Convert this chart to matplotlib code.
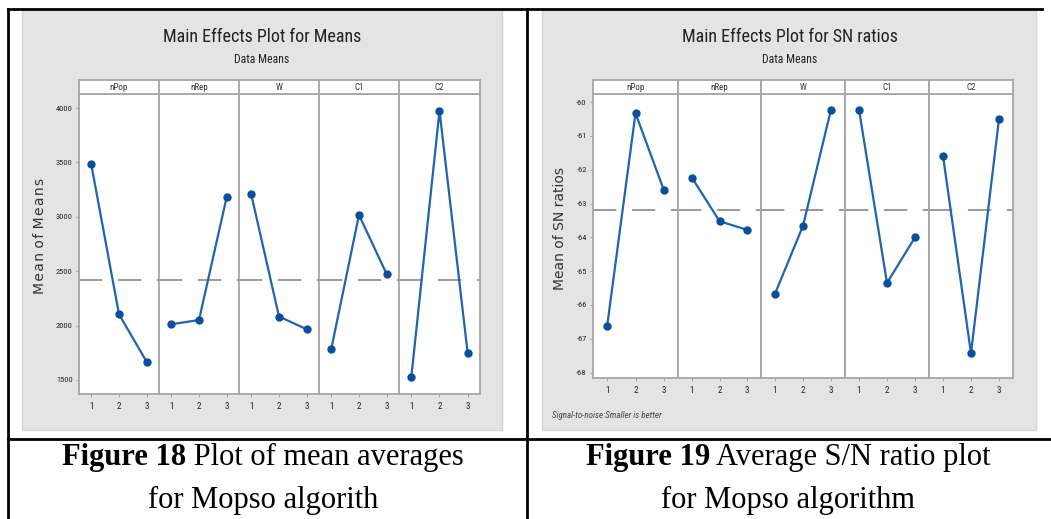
import matplotlib
matplotlib.use("Agg")
import matplotlib.pyplot as plt
from matplotlib import font_manager
from matplotlib.lines import Line2D
from matplotlib.patches import Rectangle

# factor levels and main-effect values
factors = ["nPop", "nRep", "W", "C1", "C2"]
levels = [1, 2, 3]

mean_npop = [3485, 2104, 1665]
mean_nrep = [2012, 2051, 3185]
mean_w = [3207, 2083, 1966]
mean_c1 = [1782, 3017, 2471]
mean_c2 = [1531, 3975, 1751]
mean_ticks = [1500, 2000, 2500, 3000, 3500, 4000]

sn_npop = [-66.62, -60.33, -62.60]
sn_nrep = [-62.23, -63.52, -63.78]
sn_w = [-65.67, -63.66, -60.22]
sn_c1 = [-60.22, -65.35, -64.00]
sn_c2 = [-61.59, -67.43, -60.50]
sn_ticks = [-68, -67, -66, -65, -64, -63, -62, -61, -60]

W, H = 1051, 519

installed = {f.name for f in font_manager.fontManager.ttflist}
narrow = next((f for f in ["Liberation Sans Narrow", "DejaVu Sans Condensed",
                           "Roboto Condensed", "Open Sans"] if f in installed), "DejaVu Sans")
serif = "Liberation Serif" if "Liberation Serif" in installed else "DejaVu Serif"

BLUE = "#1f63b4"
DOT = "#0b4f9c"
FRAME = "#a6a6a6"
TXT = "#222222"
CAP_SIZE = 22


def box(x0, y0, x1, y1):
    return [x0 / W, 1 - y1 / H, (x1 - x0) / W, (y1 - y0) / H]


def fx(x):
    return x / W


def fy(y):
    return 1 - y / H


def effects_panel(fig, edges, top, strip_top, bottom, series, ylim, yticks, xlim):
    grand = sum(sum(s) for s in series) / sum(len(s) for s in series)
    for i, (name, vals) in enumerate(zip(factors, series)):
        ax = fig.add_axes(box(edges[i], top, edges[i + 1], bottom))
        ax.set_facecolor("white")
        ax.axhline(grand, color="#9a9a9a", lw=1.4, dashes=(12, 8), zorder=1)
        ax.plot(levels, vals, color=BLUE, lw=1.6, zorder=2)
        ax.plot(levels, vals, "o", color=DOT, ms=5, zorder=3)
        ax.set_xlim(*xlim)
        ax.set_ylim(*ylim)
        ax.set_xticks(levels)
        ax.set_xticklabels([str(l) for l in levels], fontsize=6.5,
                           family=narrow, color=TXT)
        ax.tick_params(axis="x", length=2.5, width=0.8, color=FRAME, pad=3)
        if i == 0:
            ax.set_yticks(yticks)
            ax.set_yticklabels([str(t) for t in yticks], fontsize=6,
                               family=narrow, color=TXT)
            ax.tick_params(axis="y", length=2.5, width=0.8, color=FRAME, pad=2)
        else:
            ax.set_yticks([])
        for sp in ax.spines.values():
            sp.set_color(FRAME)
            sp.set_linewidth(1.3)

        st = fig.add_axes(box(edges[i], strip_top, edges[i + 1], top))
        st.set_facecolor("white")
        st.set_xticks([])
        st.set_yticks([])
        for sp in st.spines.values():
            sp.set_color(FRAME)
            sp.set_linewidth(1.3)
        st.text(0.5, 0.45, name, ha="center", va="center", fontsize=6.5,
                family=narrow, color="#333333", transform=st.transAxes)


fig = plt.figure(figsize=(W / 100, H / 100), dpi=100)
fig.patch.set_facecolor("white")

# grey chart backgrounds
for x0, x1 in [(22, 502), (542, 1036)]:
    fig.add_artist(Rectangle((fx(x0), fy(430)), (x1 - x0) / W, (430 - 9) / H,
                             transform=fig.transFigure, facecolor="#e4e4e4",
                             edgecolor="#d4d4d4", lw=1, zorder=0))

# left chart: means
effects_panel(fig, [79, 159, 239, 319, 399, 480], 94, 80, 394,
              [mean_npop, mean_nrep, mean_w, mean_c1, mean_c2],
              (1371, 4129), mean_ticks, (0.56, 3.44))
fig.text(fx(262), fy(37), "Main Effects Plot for Means", ha="center", va="center",
         fontsize=13, family=narrow, color=TXT)
fig.text(fx(262), fy(60), "Data Means", ha="center", va="center",
         fontsize=8.5, family=narrow, color=TXT)
fig.text(fx(40), fy(236), "M\u200ae\u200aa\u200an o\u200af M\u200ae\u200aa\u200an\u200as",
         ha="center", va="center", rotation=90, fontsize=10,
         family="DejaVu Sans", color="#333333")

# right chart: signal-to-noise ratios
effects_panel(fig, [593, 678, 761, 845, 929, 1013], 94, 80, 378,
              [sn_npop, sn_nrep, sn_w, sn_c1, sn_c2],
              (-68.16, -59.76), sn_ticks, (0.5, 3.5))
fig.text(fx(790), fy(37), "Main Effects Plot for SN ratios", ha="center",
         va="center", fontsize=13, family=narrow, color=TXT)
fig.text(fx(790), fy(60), "Data Means", ha="center", va="center",
         fontsize=8.5, family=narrow, color=TXT)
fig.text(fx(560), fy(229), "Mean of SN ratios", ha="center", va="center",
         rotation=90, fontsize=10, family="DejaVu Sans", color="#333333")
fig.text(fx(552), fy(415), "Signal-to-noise:Smaller is better", ha="left",
         va="center", fontsize=6.5, style="italic", family=narrow, color="#444444")

# table rules
rules = [((8, 8), (9, 519)), ((527, 527), (9, 519)),
         ((8, 1042), (9, 9)), ((8, 1051), (439, 439))]
for xs, ys in rules:
    fig.add_artist(Line2D([fx(x) for x in xs], [fy(y) for y in ys],
                          transform=fig.transFigure, color="black", lw=2))

# captions: bold figure number followed by regular text, centred as one line
for cx, lead, rest, line2 in [(263, "Figure 18", " Plot of mean averages", "for Mopso algorith"),
                              (788, "Figure 19", " Average S/N ratio plot", "for Mopso algorithm")]:
    tb = fig.text(0, fy(465), lead, ha="left", va="baseline", fontsize=CAP_SIZE,
                  family=serif, weight="bold", color="black")
    tr = fig.text(0, fy(465), rest, ha="left", va="baseline", fontsize=CAP_SIZE,
                  family=serif, color="black")
    fig.canvas.draw()
    wb = tb.get_window_extent().width
    wr = tr.get_window_extent().width
    left = cx - (wb + wr) / 2
    tb.set_x(fx(left))
    tr.set_x(fx(left + wb))
    fig.text(fx(cx), fy(508), line2, ha="center", va="baseline", fontsize=CAP_SIZE,
             family=serif, color="black")

fig.savefig("out.png", dpi=100, facecolor="white")
